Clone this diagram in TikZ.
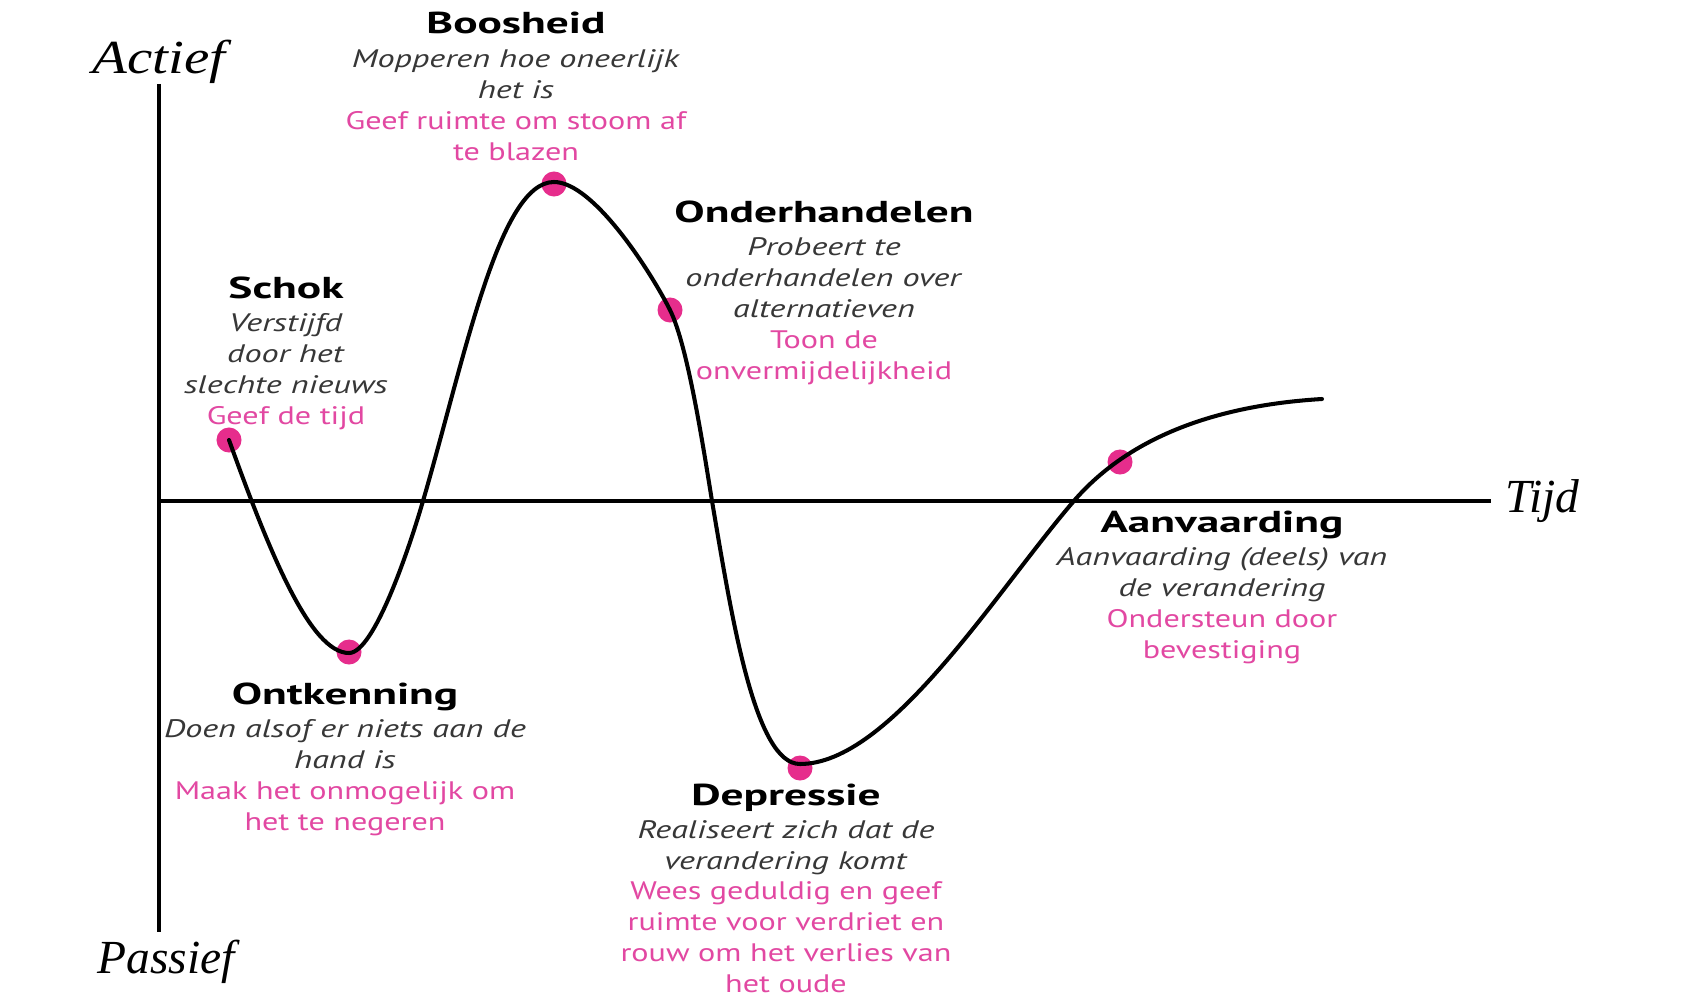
\documentclass[tikz,border=0pt]{standalone}
\usepackage{fontspec}
\setmainfont[FakeStretch=1.35, BoldFeatures={FakeStretch=1.5}]{PT Sans}
\newfontfamily\advfont[FakeStretch=1.27]{PT Sans}
\newfontfamily\handfont{Liberation Serif}
\newfontfamily\handwide[FakeStretch=1.2]{Liberation Serif}
\usetikzlibrary{positioning}
\definecolor{dotpink}{RGB}{230,45,140}
\definecolor{advice}{RGB}{226,72,162}
\definecolor{descgray}{RGB}{55,55,55}
\newcommand{\adv}[1]{\textcolor{advice}{\advfont #1}}

\begin{document}
\begin{tikzpicture}[
    x=0.01cm, y=-0.01cm,
    dot/.style = {circle, fill=dotpink, minimum size=0.25cm, inner sep=0pt},
    ttl/.style = {font=\fontsize{8.6}{9}\selectfont\bfseries, inner sep=0pt, text height=6pt, text depth=1.5pt, anchor=base},
    body/.style = {font=\fontsize{7.2}{8.8}\selectfont, align=center, inner sep=0pt, text=descgray, execute at begin node=\strut},
    axis/.style = {line width=1pt},
    curve/.style = {line width=1.15pt, line cap=round},
    hand/.style = {font=\handfont\itshape\fontsize{13.5}{14}\selectfont, inner sep=0pt}
]
\path[fill=white, use as bounding box] (0,0) rectangle (1688,997);

% axes
\coordinate (orig) at (159,501);
\coordinate (ytop) at (159,84);
\coordinate (ybot) at (159,932);
\coordinate (xend) at (1491,501);
\draw[axis] (ytop) -- (ybot);
\draw[axis] (orig) -- (xend);
\node[hand, font=\handwide\itshape\fontsize{13.5}{14}\selectfont, above=0pt of ytop] (act) {Actief};
\node[hand, below=2pt of ybot, xshift=2pt] (pas) {Passief};
\node[hand, right=4pt of xend] (tyd) {Tijd};

% stage dots
\node[dot] (dS) at (229,440) {};
\node[dot] (dO) at (349,652) {};
\node[dot] (dB) at (554,184) {};
\node[dot] (dN) at (670,310) {};
\node[dot] (dD) at (800,768) {};
\node[dot] (dA) at (1120,462) {};

% axis crossings of the curve
\coordinate (c1) at (423,501);
\coordinate (c2) at (712,501);
\coordinate (c3) at (1073,502);
\coordinate (cend) at (1322,399);

% the curve
\draw[curve] (dS.center) .. controls (269,551) and (310,653) .. (349,653)
    .. controls (374,653) and (409,549) .. (c1)
    .. controls (465,357) and (499,182) .. (554,182)
    .. controls (594,182) and (652,274) .. (dN.center)
    .. controls (688,346) and (704,452) .. (c2)
    .. controls (732,619) and (755,764) .. (800,764)
    .. controls (890,764) and (995,593) .. (c3)
    .. controls (1131,434) and (1222,405) .. (cend);

% stage texts
\node[ttl] (tS) at (286,298) {Schok};
\node[body, below=2.6pt of tS] (bS) {\textit{Verstijfd}\\ \textit{door het}\\ \textit{slechte nieuws}\\ \adv{Geef de tijd}};

\node[ttl] (tO) at (345,704) {Ontkenning};
\node[body, below=2.6pt of tO] (bO) {\textit{Doen alsof er niets aan de}\\ \textit{hand is}\\ \adv{Maak het onmogelijk om}\\ \adv{het te negeren}};

\node[ttl] (tB) at (516,34) {Boosheid};
\node[body, below=2.6pt of tB] (bB) {\textit{Mopperen hoe oneerlijk}\\ \textit{het is}\\ \adv{Geef ruimte om stoom af}\\ \adv{te blazen}};

\node[ttl] (tN) at (824,222) {Onderhandelen};
\node[body, below=2.6pt of tN] (bN) {\textit{Probeert te}\\ \textit{onderhandelen over}\\ \textit{alternatieven}\\ \adv{Toon de}\\ \adv{onvermijdelijkheid}};

\node[ttl] (tD) at (786,805) {Depressie};
\node[body, below=2.4pt of tD] (bD) {\textit{Realiseert zich dat de}\\ \textit{verandering komt}\\ \adv{Wees geduldig en geef}\\ \adv{ruimte voor verdriet en}\\ \adv{rouw om het verlies van}\\ \adv{het oude}};

\node[ttl] (tA) at (1222,532) {Aanvaarding};
\node[body, below=2.6pt of tA] (bA) {\textit{Aanvaarding (deels) van}\\ \textit{de verandering}\\ \adv{Ondersteun door}\\ \adv{bevestiging}};

\end{tikzpicture}
\end{document}
